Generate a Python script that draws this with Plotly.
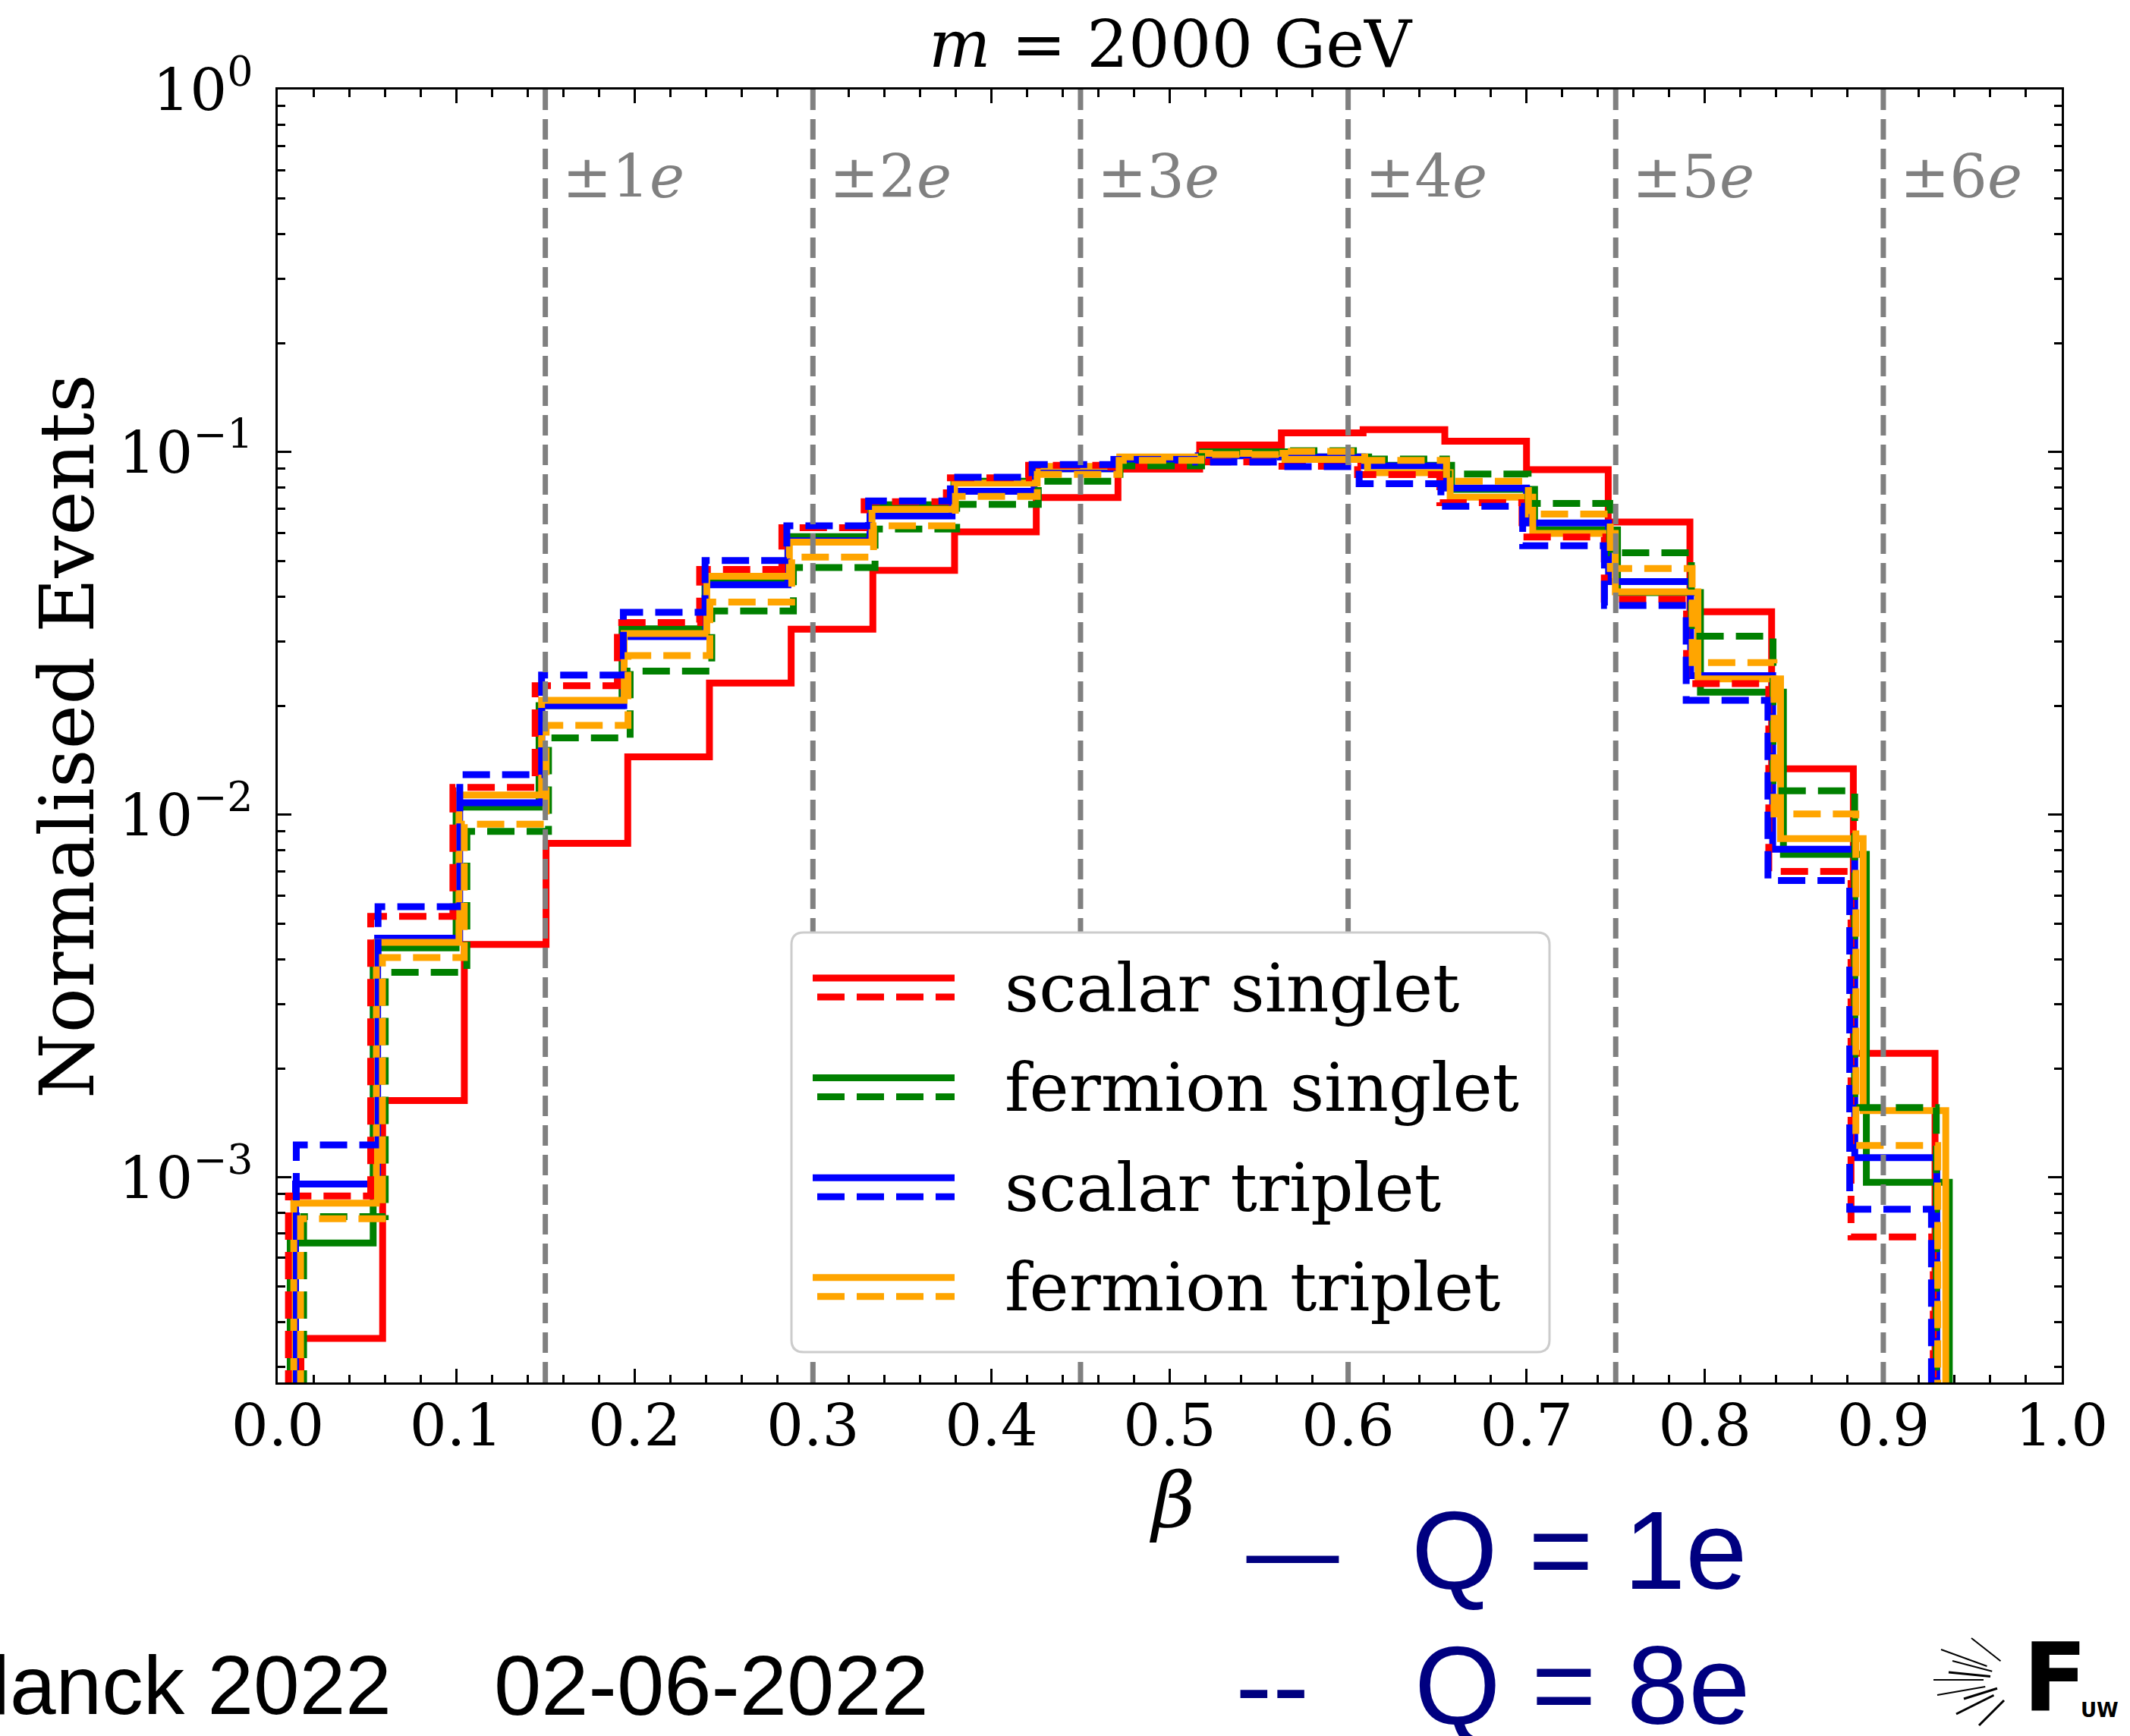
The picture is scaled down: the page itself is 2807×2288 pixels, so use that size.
import numpy as np
import plotly.graph_objects as go

# ---------------- data ----------------
# each histogram: 20 equal-width bins between a first and last edge (beta)
scalar_singlet_q1_edges = [0.013, 0.929]
scalar_singlet_q1 = [3.6e-4, 1.63e-3, 4.39e-3, 8.35e-3, 1.445e-2, 2.31e-2, 3.25e-2, 4.72e-2, 6.03e-2, 7.5e-2,
                     8.98e-2, 0.1047, 0.1130, 0.1154, 0.1072, 8.95e-2, 6.42e-2, 3.63e-2, 1.34e-2, 2.2e-3]

fermion_singlet_q1_edges = [0.007, 0.937]
fermion_singlet_q1 = [6.6e-4, 4.3e-3, 1.05e-2, 2.0e-2, 3.26e-2, 4.4e-2, 5.85e-2, 7.16e-2, 8.32e-2, 9.0e-2,
                      9.55e-2, 0.1002, 9.7e-2, 9.2e-2, 7.9e-2, 6.1e-2, 4.1e-2, 2.18e-2, 7.78e-3, 9.7e-4]

scalar_triplet_q1_edges = [0.010, 0.930]
scalar_triplet_q1 = [9.6e-4, 4.57e-3, 1.08e-2, 2.0e-2, 3.1e-2, 4.31e-2, 5.7e-2, 6.67e-2, 7.8e-2, 9.0e-2,
                     9.4e-2, 9.77e-2, 9.7e-2, 9.17e-2, 7.96e-2, 6.38e-2, 4.4e-2, 2.42e-2, 8.04e-3, 1.135e-3]

fermion_triplet_q1_edges = [0.009, 0.935]
fermion_triplet_q1 = [8.5e-4, 4.45e-3, 1.135e-2, 2.07e-2, 3.16e-2, 4.55e-2, 5.65e-2, 6.96e-2, 8.22e-2, 9.14e-2,
                      9.7e-2, 9.93e-2, 9.55e-2, 8.78e-2, 7.52e-2, 5.97e-2, 4.12e-2, 2.37e-2, 8.6e-3, 1.53e-3]

scalar_singlet_q8_edges = [0.006, 0.928]
scalar_singlet_q8 = [8.9e-4, 5.25e-3, 1.19e-2, 2.27e-2, 3.39e-2, 4.75e-2, 6.19e-2, 7.3e-2, 8.5e-2, 9.2e-2,
                     9.1e-2, 9.4e-2, 9.15e-2, 8.67e-2, 7.26e-2, 5.84e-2, 3.93e-2, 2.3e-2, 6.98e-3, 6.86e-4]

fermion_singlet_q8_edges = [0.0145, 0.9297]
fermion_singlet_q8 = [7.8e-4, 3.68e-3, 9.0e-3, 1.63e-2, 2.49e-2, 3.65e-2, 4.81e-2, 6.14e-2, 7.18e-2, 8.32e-2,
                      9.17e-2, 0.100, 0.101, 9.57e-2, 8.71e-2, 7.22e-2, 5.28e-2, 3.11e-2, 1.165e-2, 1.56e-3]

scalar_triplet_q8_edges = [0.0104, 0.927]
scalar_triplet_q8 = [1.23e-3, 5.58e-3, 1.29e-2, 2.43e-2, 3.62e-2, 5.03e-2, 6.27e-2, 7.34e-2, 8.53e-2, 9.25e-2,
                     9.55e-2, 9.39e-2, 9.12e-2, 8.19e-2, 7.09e-2, 5.52e-2, 3.78e-2, 2.07e-2, 6.59e-3, 8.18e-4]

fermion_triplet_q8_edges = [0.0128, 0.9305]
fermion_triplet_q8 = [7.7e-4, 4.04e-3, 9.42e-3, 1.765e-2, 2.75e-2, 3.86e-2, 5.14e-2, 6.27e-2, 7.55e-2, 8.69e-2,
                      9.5e-2, 9.85e-2, 0.1005, 9.5e-2, 8.32e-2, 6.75e-2, 4.78e-2, 2.63e-2, 1.006e-2, 1.225e-3]

model_names = ["scalar singlet", "fermion singlet", "scalar triplet", "fermion triplet"]
model_colors = ["#ff0000", "#008000", "#0000ff", "#ffa500"]

charge_lines_beta = [0.15, 0.30, 0.45, 0.60, 0.75, 0.90]
charge_line_labels = ["±1<i>e</i>", "±2<i>e</i>", "±3<i>e</i>", "±4<i>e</i>", "±5<i>e</i>", "±6<i>e</i>"]

x_tick_vals = [0.0, 0.1, 0.2, 0.3, 0.4, 0.5, 0.6, 0.7, 0.8, 0.9, 1.0]
x_tick_text = ["0.0", "0.1", "0.2", "0.3", "0.4", "0.5", "0.6", "0.7", "0.8", "0.9", "1.0"]
y_tick_vals = [1e-3, 1e-2, 1e-1, 1.0]
y_tick_text = ["10<sup>−3</sup>", "10<sup>−2</sup>", "10<sup>−1</sup>", "10<sup>0</sup>"]

# ---------------- layout geometry (pixels) ----------------
W, H = 2807, 2288
L, R, T, B = 366, 2717, 118, 1822
YLOG_MIN = -3.565


def px(X):
    return (X - L) / (R - L)


def py(Y):
    return 1 - (Y - T) / (B - T)


SERIF = "DejaVu Serif"
SANS = "DejaVu Sans"
ARIAL = "Liberation Sans"
DASH = "36px,16px"
LW = 9

fig = go.Figure()

solid_sets = [(scalar_singlet_q1_edges, scalar_singlet_q1), (fermion_singlet_q1_edges, fermion_singlet_q1),
              (scalar_triplet_q1_edges, scalar_triplet_q1), (fermion_triplet_q1_edges, fermion_triplet_q1)]
dashed_sets = [(scalar_singlet_q8_edges, scalar_singlet_q8), (fermion_singlet_q8_edges, fermion_singlet_q8),
               (scalar_triplet_q8_edges, scalar_triplet_q8), (fermion_triplet_q8_edges, fermion_triplet_q8)]


def add_hist(rng, vals, color, dash, name):
    edges = np.linspace(rng[0], rng[1], len(vals) + 1)
    floor = 1e-6
    xs = [edges[0]] + list(edges[:-1]) + [edges[-1]]
    ys = [floor] + list(vals) + [floor]
    fig.add_trace(go.Scatter(x=xs, y=ys, mode="lines", line=dict(shape="hv", color=color, width=LW, dash=dash),
                             name=name, showlegend=False, hoverinfo="skip"))


for (rng, vals), c, n in zip(solid_sets, model_colors, model_names):
    add_hist(rng, vals, c, "solid", n + " Q=1e")
for (rng, vals), c, n in zip(dashed_sets, model_colors, model_names):
    add_hist(rng, vals, c, DASH, n + " Q=8e")

shapes = []
annotations = []

# vertical charge lines
for xb, lab in zip(charge_lines_beta, charge_line_labels):
    shapes.append(dict(type="line", xref="x", yref="paper", x0=xb, x1=xb, y0=0, y1=1,
                       line=dict(color="#808080", width=7, dash="27px,12px"), layer="above"))
    annotations.append(dict(x=xb, y=py(233), xref="x", yref="paper", text=lab, showarrow=False,
                            xanchor="left", yanchor="middle", xshift=20,
                            font=dict(family=SERIF, size=78, color="#808080")))

# legend box (rounded)
lx0, lx1, ly0, ly1, rr = 1043, 2042, 1229, 1782, 16


def P(X, Y):
    return f"{px(X):.6f},{py(Y):.6f}"


path = (f"M {P(lx0 + rr, ly0)} L {P(lx1 - rr, ly0)} Q {P(lx1, ly0)} {P(lx1, ly0 + rr)} "
        f"L {P(lx1, ly1 - rr)} Q {P(lx1, ly1)} {P(lx1 - rr, ly1)} L {P(lx0 + rr, ly1)} "
        f"Q {P(lx0, ly1)} {P(lx0, ly1 - rr)} L {P(lx0, ly0 + rr)} Q {P(lx0, ly0)} {P(lx0 + rr, ly0)} Z")
shapes.append(dict(type="path", xref="paper", yref="paper", path=path, fillcolor="white",
                   line=dict(color="#cccccc", width=3), layer="above"))
row_h = 131.6
for i, (n, c) in enumerate(zip(model_names, model_colors)):
    ys = 1289 + row_h * i
    yd = 1314 + row_h * i
    shapes.append(dict(type="line", xref="paper", yref="paper", x0=px(1071), x1=px(1258), y0=py(ys), y1=py(ys),
                       line=dict(color=c, width=LW), layer="above"))
    shapes.append(dict(type="line", xref="paper", yref="paper", x0=px(1077), x1=px(1258), y0=py(yd), y1=py(yd),
                       line=dict(color=c, width=LW, dash=DASH), layer="above"))
    annotations.append(dict(x=px(1322), y=py(1302 + row_h * i), xref="paper", yref="paper", text=n,
                            showarrow=False, xanchor="left", yanchor="middle",
                            font=dict(family=SERIF, size=88, color="black")))

# title and axis labels
annotations.append(dict(x=px(1543), y=py(58), xref="paper", yref="paper", text="<i>m</i> = 2000 GeV",
                        showarrow=False, xanchor="center", yanchor="middle",
                        font=dict(family=SERIF, size=86, color="black")))
annotations.append(dict(x=px(88), y=py(971), xref="paper", yref="paper", text="Normalised Events",
                        showarrow=False, textangle=-90, xanchor="center", yanchor="middle",
                        font=dict(family=SERIF, size=99, color="black")))
annotations.append(dict(x=px(1544), y=py(1977), xref="paper", yref="paper", text="<i>β</i>",
                        showarrow=False, xanchor="center", yanchor="middle",
                        font=dict(family=SERIF, size=99, color="black")))

# footer texts
annotations.append(dict(x=px(518), y=py(2221), xref="paper", yref="paper", text="Planck 2022",
                        showarrow=False, xanchor="right", yanchor="middle",
                        font=dict(family=ARIAL, size=109, color="black")))
annotations.append(dict(x=px(649), y=py(2221), xref="paper", yref="paper", text="02-06-2022",
                        showarrow=False, xanchor="left", yanchor="middle",
                        font=dict(family=ARIAL, size=112, color="black")))
NAVY = "#000080"
annotations.append(dict(x=px(1634), y=py(2045), xref="paper", yref="paper", text="—",
                        showarrow=False, xanchor="left", yanchor="middle",
                        font=dict(family=SANS, size=135, color=NAVY)))
annotations.append(dict(x=px(1858), y=py(2043), xref="paper", yref="paper", text="Q = 1e",
                        showarrow=False, xanchor="left", yanchor="middle",
                        font=dict(family=ARIAL, size=146, color=NAVY)))
annotations.append(dict(x=px(1626), y=py(2223), xref="paper", yref="paper", text="--",
                        showarrow=False, xanchor="left", yanchor="middle",
                        font=dict(family=SANS, size=135, color=NAVY)))
annotations.append(dict(x=px(1862), y=py(2221), xref="paper", yref="paper", text="Q = 8e",
                        showarrow=False, xanchor="left", yanchor="middle",
                        font=dict(family=ARIAL, size=146, color=NAVY)))

# small logo
annotations.append(dict(x=px(2664), y=py(2212), xref="paper", yref="paper", text="<b>F</b>",
                        showarrow=False, xanchor="left", yanchor="middle",
                        font=dict(family=SANS, size=124, color="black")))
annotations.append(dict(x=px(2740), y=py(2254), xref="paper", yref="paper", text="<b>UW</b>",
                        showarrow=False, xanchor="left", yanchor="middle",
                        font=dict(family=SANS, size=26, color="black")))
for k, (dx, dy) in enumerate([(-110, -40), (-100, -10), (-115, 20), (-90, 45), (-70, -55), (-60, 60),
                               (-120, 0), (-80, 25), (-95, -25)]):
    cx, cy = 2668, 2214
    shapes.append(dict(type="line", xref="paper", yref="paper",
                       x0=px(cx + dx * 0.45), y0=py(cy + dy * 0.45), x1=px(cx + dx), y1=py(cy + dy),
                       line=dict(color="black", width=3 if k % 2 else 2)))

axis_common = dict(showline=True, linecolor="black", linewidth=3, mirror="allticks", ticks="inside",
                   tickcolor="black", tickwidth=3, ticklen=18, showgrid=False, zeroline=False,
                   tickfont=dict(family=SERIF, size=77, color="black"))

fig.update_layout(
    width=W, height=H,
    margin=dict(l=L, r=W - R, t=T, b=H - B, pad=0),
    paper_bgcolor="white", plot_bgcolor="white",
    showlegend=False,
    shapes=shapes, annotations=annotations,
    xaxis=dict(range=[0, 1], tickmode="array", tickvals=x_tick_vals, ticktext=x_tick_text,
               ticklabelstandoff=-12,
               minor=dict(ticks="inside", ticklen=10, tickwidth=2.5, tickcolor="black", dtick=0.02, tick0=0),
               **axis_common),
    yaxis=dict(type="log", range=[YLOG_MIN, 0], tickmode="array", tickvals=y_tick_vals, ticktext=y_tick_text,
               ticklabelstandoff=14,
               minor=dict(ticks="inside", ticklen=10, tickwidth=2.5, tickcolor="black", dtick="D1"),
               **axis_common),
)

fig.write_html("out.html", config={"displayModeBar": False},
               post_script="document.body.style.margin='0';document.body.style.overflow='hidden';")
